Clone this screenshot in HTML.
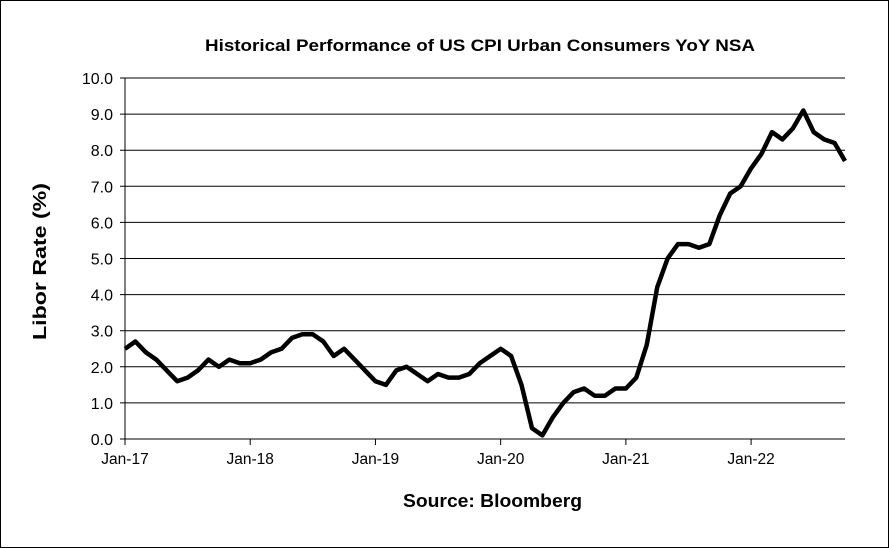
<!DOCTYPE html>
<html><head><meta charset="utf-8"><style>
body{margin:0;background:#fff;}
svg{display:block;font-family:"Liberation Sans",Arial,sans-serif;}
</style></head><body>
<svg width="889" height="548" viewBox="0 0 889 548">
<rect x="0.5" y="0.5" width="888" height="547" fill="#fff" stroke="#000"/>
<text x="205" y="51" textLength="550" lengthAdjust="spacingAndGlyphs" font-size="17" font-weight="bold">Historical Performance of US CPI Urban Consumers YoY NSA</text>
<text transform="translate(46,262) rotate(-90)" x="-78" y="0" textLength="157" lengthAdjust="spacingAndGlyphs" font-size="18" font-weight="bold">Libor Rate (%)</text>
<text x="403" y="507" textLength="179" lengthAdjust="spacingAndGlyphs" font-size="18" font-weight="bold">Source: Bloomberg</text>
<g id="grid"></g><g id="axes"></g><g id="series"></g>
</svg>
<script>
const yTicks=[0,1,2,3,4,5,6,7,8,9,10];
const xTickLabels=["Jan-17","Jan-18","Jan-19","Jan-20","Jan-21","Jan-22"];
const cpiValues=[2.5,2.7,2.4,2.2,1.9,1.6,1.7,1.9,2.2,2.0,2.2,2.1,
2.1,2.2,2.4,2.5,2.8,2.9,2.9,2.7,2.3,2.5,2.2,1.9,
1.6,1.5,1.9,2.0,1.8,1.6,1.8,1.7,1.7,1.8,2.1,2.3,
2.5,2.3,1.5,0.3,0.1,0.6,1.0,1.3,1.4,1.2,1.2,1.4,
1.4,1.7,2.6,4.2,5.0,5.4,5.4,5.3,5.4,6.2,6.8,7.0,
7.5,7.9,8.5,8.3,8.6,9.1,8.5,8.3,8.2,7.7];
const X0=125,X1=845,Y0=439,Y1=78,NS="http://www.w3.org/2000/svg";
const xs=m=>X0+m*(X1-X0)/69;
const ys=v=>Y0-v*(Y0-Y1)/10;
const grid=document.getElementById('grid'),axes=document.getElementById('axes'),ser=document.getElementById('series');
function mk(t,a,p){const e=document.createElementNS(NS,t);for(const k in a)e.setAttribute(k,a[k]);p.appendChild(e);return e;}
yTicks.forEach(v=>{
 const l=mk('line',{x1:X0-5,x2:X1,y1:ys(v),y2:ys(v),stroke:'#000','stroke-width':1},grid);
 
 
 const t=mk('text',{x:X0-12,y:ys(v)+6,'text-anchor':'end','font-size':16},axes);
 t.textContent=v.toFixed(1);
 
 
});
const ax=mk('line',{x1:X0,x2:X0,y1:Y1,y2:Y0,stroke:'#000'},axes);


const bx=mk('line',{x1:X0,x2:X1,y1:Y0,y2:Y0,stroke:'#000'},axes);


xTickLabels.forEach((s,i)=>{
 const x=xs(i*12);
 const tk=mk('line',{x1:x,x2:x,y1:Y0,y2:Y0+6,stroke:'#000'},axes);
 
 
 const t=mk('text',{x:x,y:Y0+25,'text-anchor':'middle','font-size':15.5},axes);
 t.textContent=s;
 
 
});
const pts=cpiValues.map((v,i)=>xs(i).toFixed(1)+','+ys(v).toFixed(1)).join(' ');
const pl=mk('polyline',{points:pts,fill:'none',stroke:'#000','stroke-width':4.5,'stroke-linejoin':'round'},ser);


</script>
</body></html>
